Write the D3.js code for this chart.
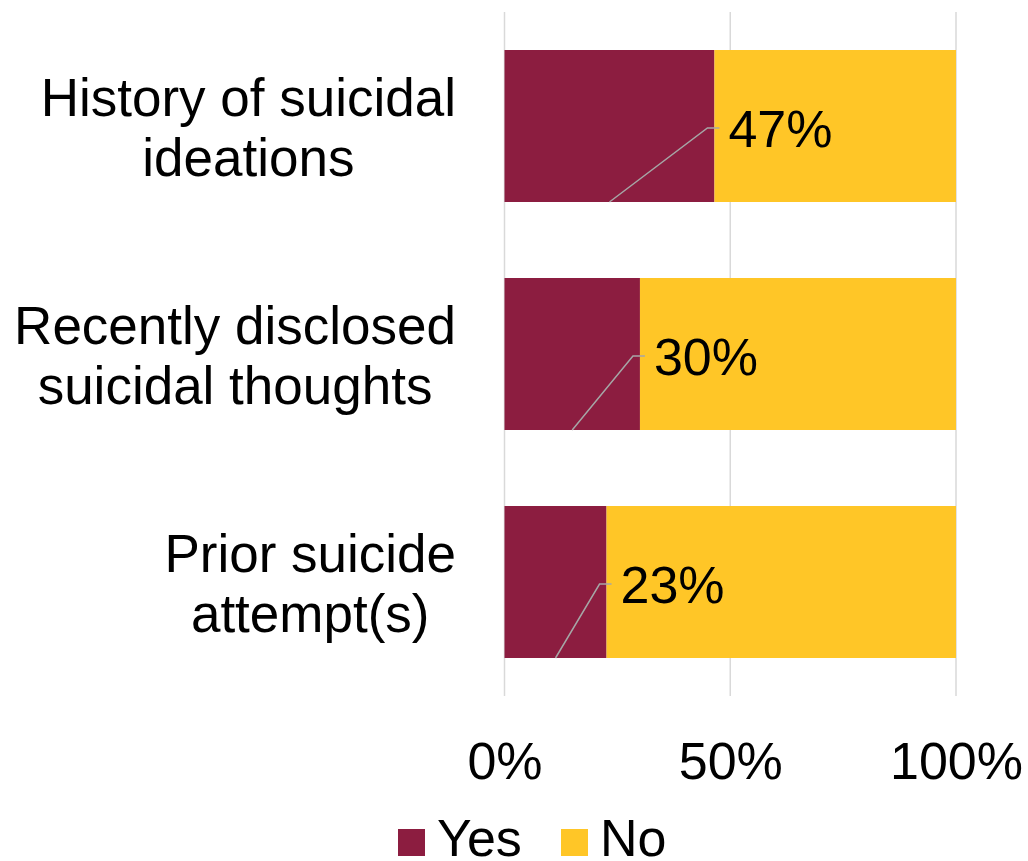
<!DOCTYPE html>
<html><head><meta charset="utf-8">
<script src="https://cdn.jsdelivr.net/npm/d3@7"></script>
<style>body{margin:0;background:#fff}</style>
</head><body>
<svg id="chart" width="1028" height="861"></svg>
<script>
const categories = [["History of suicidal","ideations"],["Recently disclosed","suicidal thoughts"],["Prior suicide","attempt(s)"]];
const categoryKeys = ["History of suicidal ideations","Recently disclosed suicidal thoughts","Prior suicide attempt(s)"];
const yesValues = [46.5, 30, 22.6];
const noValues = [53.5, 70, 77.4];
const dataLabels = ["47%","30%","23%"];
const seriesNames = ["Yes","No"];
const seriesColors = ["#8C1D40","#FFC627"];
const xTicks = [0, 50, 100];
const xTickLabels = ["0%","50%","100%"];

const svg = d3.select("#chart");
const font = "'Liberation Sans', Arial, sans-serif";
const fs = 52;

const x = d3.scaleLinear().domain([0,100]).range([504.5, 956]);
const y = d3.scaleBand().domain(categoryKeys).range([12, 696]).paddingInner(1/3).paddingOuter(1/6);

// gridlines
svg.append("g").selectAll("line").data(xTicks).join("line")
  .attr("x1", d=>x(d)).attr("x2", d=>x(d))
  .attr("y1", 12).attr("y2", 696)
  .attr("stroke", "#D9D9D9").attr("stroke-width", 1.5);

const rows = categoryKeys.map((k,i)=>({key:k, yes:yesValues[i], no:noValues[i], label:dataLabels[i], lines:categories[i]}));

// bars
const g = svg.append("g");
g.selectAll("rect.yes").data(rows).join("rect").attr("class","yes")
  .attr("x", x(0)).attr("y", d=>y(d.key))
  .attr("width", d=>x(d.yes)-x(0)).attr("height", y.bandwidth())
  .attr("fill", seriesColors[0]);
g.selectAll("rect.no").data(rows).join("rect").attr("class","no")
  .attr("x", d=>x(d.yes)).attr("y", d=>y(d.key))
  .attr("width", d=>x(d.yes+d.no)-x(d.yes)).attr("height", y.bandwidth())
  .attr("fill", seriesColors[1]);

// leader lines and labels
rows.forEach(d=>{
  const cy = y(d.key) + y.bandwidth()/2;
  const lx = x(d.yes) + 14;
  const sx = x(d.yes/2);
  const sy = y(d.key) + y.bandwidth();
  svg.append("path")
    .attr("d", `M${sx},${sy}L${lx-21},${cy+2}L${lx-9},${cy+2}`)
    .attr("fill","none").attr("stroke","#A6A6A6").attr("stroke-width",1.5);
  svg.append("text").attr("x", lx).attr("y", cy+21)
    .attr("font-family", font).attr("font-size", fs).attr("fill","#000")
    .text(d.label);
});

// category labels (multi-line, centred within block right-aligned at 456)
rows.forEach(d=>{
  const cy = y(d.key) + y.bandwidth()/2;
  const t = svg.append("text").attr("text-anchor","middle")
    .attr("font-family", font).attr("font-size", 53).attr("fill","#000");
  const spans = d.lines.map((ln,j)=>t.append("tspan")
    .attr("y", cy + (j - (d.lines.length-1)/2)*60 + 20).text(ln));
  const maxW = d3.max(spans, s=>s.node().getComputedTextLength());
  spans.forEach(s=>s.attr("x", 456 - maxW/2));
});

// x axis tick labels
const xAxis = d3.axisBottom(x).tickValues(xTicks).tickFormat((d,i)=>xTickLabels[i]).tickSize(0).tickPadding(0);
const ax = svg.append("g").attr("transform","translate(0,740)").call(xAxis);
ax.select(".domain").remove();
ax.selectAll("text").attr("font-family", font).attr("font-size", fs).attr("fill","#000").attr("dy", null).attr("y", 39);

// legend
const legendX = [398, 561];
seriesNames.forEach((n,i)=>{
  svg.append("rect").attr("x", legendX[i]).attr("y", 829).attr("width",27).attr("height",27).attr("fill", seriesColors[i]);
  svg.append("text").attr("x", legendX[i]+39).attr("y", 856)
    .attr("font-family", font).attr("font-size", fs).attr("fill","#000").text(n);
});
</script>
</body></html>
